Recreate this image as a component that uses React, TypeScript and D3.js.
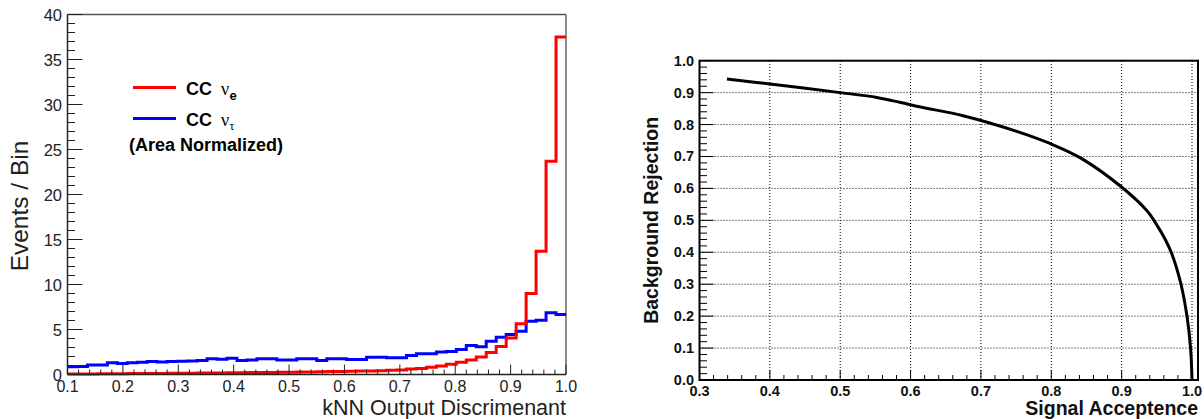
import React from 'react';
import * as d3 from 'd3';

// ---------- Data ----------
const binLow = 0.1;
const binHigh = 1.0;
const ccNuE = [
  0.05, 0.05, 0.06, 0.07, 0.08, 0.09, 0.1, 0.1, 0.11, 0.12,
  0.13, 0.14, 0.15, 0.16, 0.17, 0.18, 0.19, 0.2, 0.21, 0.22,
  0.23, 0.24, 0.26, 0.27, 0.29, 0.3, 0.32, 0.34, 0.36, 0.38,
  0.4, 0.43, 0.46, 0.5, 0.6, 0.68, 0.8, 0.95, 1.15, 1.35,
  1.6, 1.95, 2.45, 3.1, 4.05, 5.65, 9.0, 13.7, 23.7, 37.5,
];
const ccNuTau = [
  0.85, 0.9, 1.05, 1.05, 1.3, 1.22, 1.3, 1.35, 1.44, 1.4,
  1.44, 1.48, 1.5, 1.55, 1.74, 1.7, 1.8, 1.55, 1.6, 1.74,
  1.74, 1.6, 1.6, 1.74, 1.74, 1.55, 1.74, 1.74, 1.67, 1.67,
  1.93, 1.93, 1.85, 1.85, 2.1, 2.3, 2.3, 2.5, 2.55, 2.78,
  3.22, 3.07, 3.7, 4.15, 4.44, 4.8, 5.93, 6.04, 6.85, 6.67,
];
const leftXTicks = [0.1, 0.2, 0.3, 0.4, 0.5, 0.6, 0.7, 0.8, 0.9, 1.0];
const leftYTicks = [0, 5, 10, 15, 20, 25, 30, 35, 40];

const rocAcceptance = [0.339, 0.4, 0.5, 0.552, 0.586, 0.614, 0.676, 0.752, 0.799, 0.842, 0.899, 0.936, 0.951, 0.962, 0.971, 0.984, 0.993, 0.998, 1.0];
const rocRejection = [0.943, 0.927, 0.9, 0.885, 0.869, 0.855, 0.827, 0.778, 0.74, 0.695, 0.606, 0.53, 0.482, 0.44, 0.397, 0.303, 0.198, 0.099, 0.0];
const rightXTicks = [0.3, 0.4, 0.5, 0.6, 0.7, 0.8, 0.9, 1.0];
const rightYTicks = [0.0, 0.1, 0.2, 0.3, 0.4, 0.5, 0.6, 0.7, 0.8, 0.9, 1.0];

const SANS = '"Liberation Sans", Arial, Helvetica, sans-serif';
const SERIF = '"Liberation Serif", "Times New Roman", serif';

function histPath(values: number[], x: d3.ScaleLinear<number, number>, y: d3.ScaleLinear<number, number>) {
  const n = values.length;
  const w = (binHigh - binLow) / n;
  const pts: [number, number][] = [];
  values.forEach((v, i) => {
    pts.push([x(binLow + i * w), y(v)]);
    pts.push([x(binLow + (i + 1) * w), y(v)]);
  });
  return d3.line()(pts) || '';
}

function LeftPanel() {
  const x = d3.scaleLinear().domain([binLow, binHigh]).range([67.5, 566]);
  const y = d3.scaleLinear().domain([0, 40]).range([374.5, 14.5]);
  const axisColor = '#222';
  const xMinor = d3.range(0, 46).map((i) => binLow + i * 0.02).filter((v) => v <= 1.0001);
  const yMinor = d3.range(0, 41);
  return (
    <g>
      {/* frame top/right */}
      <line x1={x(binLow)} x2={x(binHigh)} y1={y(40)} y2={y(40)} stroke="#555" strokeWidth={1.5} />
      <line x1={x(binHigh)} x2={x(binHigh)} y1={y(40)} y2={y(0)} stroke="#666" strokeWidth={1.5} />
      {/* histograms */}
      <path d={histPath(ccNuTau, x, y)} fill="none" stroke="#0000ff" strokeWidth={3} />
      <path d={histPath(ccNuE, x, y)} fill="none" stroke="#ff0000" strokeWidth={3} />
      {/* axes */}
      <line x1={x(binLow)} x2={x(binHigh)} y1={y(0)} y2={y(0)} stroke={axisColor} strokeWidth={1.5} />
      <line x1={x(binLow)} x2={x(binLow)} y1={y(0)} y2={y(40)} stroke={axisColor} strokeWidth={1.5} />
      {xMinor.map((v, i) => (
        <line key={'xm' + i} x1={x(v)} x2={x(v)} y1={y(0)} y2={y(0) - (i % 5 === 0 ? 10 : 5)} stroke={axisColor} strokeWidth={1} />
      ))}
      {yMinor.map((v) => (
        <line key={'ym' + v} x1={x(binLow)} x2={x(binLow) + (v % 5 === 0 ? 15 : 7.5)} y1={y(v)} y2={y(v)} stroke={axisColor} strokeWidth={1} />
      ))}
      {leftXTicks.map((v) => (
        <text key={'xt' + v} x={x(v)} y={392} textAnchor="middle" fontFamily={SANS} fontSize={16} fill={axisColor}>
          {v.toFixed(1)}
        </text>
      ))}
      {leftYTicks.map((v) => (
        <text key={'yt' + v} x={62} y={y(v) + 6} textAnchor="end" fontFamily={SANS} fontSize={16.5} fill={axisColor}>
          {v}
        </text>
      ))}
      <text x={566} y={415} textAnchor="end" fontFamily={SANS} fontSize={21.5} fill={axisColor}>
        kNN Output Discrimenant
      </text>
      <text transform={`translate(28,206) rotate(-90)`} textAnchor="middle" fontFamily={SANS} fontSize={24.5} fill={axisColor}>
        Events / Bin
      </text>
      {/* legend */}
      <line x1={133} x2={176} y1={87.5} y2={87.5} stroke="#ff0000" strokeWidth={3} />
      <text x={186} y={95} fontFamily={SANS} fontWeight="bold" fontSize={18} fill="#000">CC</text>
      <text x={221} y={95} fontFamily={SERIF} fontSize={18} fill="#000">ν</text>
      <text x={229.5} y={100} fontFamily={SANS} fontWeight="bold" fontSize={13} fill="#000">e</text>
      <line x1={133} x2={176} y1={118.5} y2={118.5} stroke="#0000ff" strokeWidth={3} />
      <text x={186} y={125.5} fontFamily={SANS} fontWeight="bold" fontSize={18} fill="#000">CC</text>
      <text x={221} y={125.5} fontFamily={SERIF} fontSize={18} fill="#000">ν</text>
      <text x={229.5} y={130} fontFamily={SERIF} fontSize={12} fill="#000">τ</text>
      <text x={129} y={150.5} fontFamily={SANS} fontWeight="bold" fontSize={18} fill="#000">(Area Normalized)</text>
    </g>
  );
}

function RightPanel() {
  const x = d3.scaleLinear().domain([0.3, 1.0]).range([699.5, 1192]);
  const y = d3.scaleLinear().domain([0, 1]).range([380, 60.7]);
  const frameRight = 1198;
  const line = d3.line<number>()
    .x((_, i) => x(rocAcceptance[i]))
    .y((d) => y(d))
    .curve(d3.curveCatmullRom.alpha(0.5));
  const xMinor = d3.range(0, 36).map((i) => 0.3 + i * 0.02).filter((v) => v <= 1.0001);
  const yMinor = d3.range(0, 51).map((i) => i * 0.02);
  return (
    <g>
      {/* grid */}
      {rightXTicks.filter((v) => v > 0.3).map((v) => (
        <line key={'gx' + v} x1={x(v)} x2={x(v)} y1={y(0)} y2={y(1)} stroke="#000" strokeWidth={1} strokeDasharray="1,2" />
      ))}
      {rightYTicks.filter((v) => v > 0 && v < 1).map((v) => (
        <line key={'gy' + v} x1={x(0.3)} x2={frameRight} y1={y(v)} y2={y(v)} stroke="#000" strokeWidth={1} strokeDasharray="1,2" />
      ))}
      {/* ticks */}
      {xMinor.map((v, i) => (
        <line key={'xm' + i} x1={x(v)} x2={x(v)} y1={y(0)} y2={y(0) - (i % 5 === 0 ? 10 : 5)} stroke="#000" strokeWidth={1} />
      ))}
      {yMinor.map((v, i) => (
        <line key={'ym' + i} x1={x(0.3)} x2={x(0.3) + (i % 5 === 0 ? 14 : 7.5)} y1={y(v)} y2={y(v)} stroke="#000" strokeWidth={1} />
      ))}
      {/* frame */}
      <rect x={x(0.3)} y={y(1)} width={frameRight - x(0.3)} height={y(0) - y(1)} fill="none" stroke="#000" strokeWidth={2} />
      {/* curve */}
      <path d={line(rocRejection) || ''} fill="none" stroke="#000" strokeWidth={3} />
      {rightXTicks.map((v) => (
        <text key={'xt' + v} x={x(v)} y={395.5} textAnchor="middle" fontFamily={SANS} fontWeight="bold" fontSize={14.5} fill="#111">
          {v.toFixed(1)}
        </text>
      ))}
      {rightYTicks.map((v) => (
        <text key={'yt' + v} x={694} y={y(v) + 5} textAnchor="end" fontFamily={SANS} fontWeight="bold" fontSize={14.5} fill="#111">
          {v.toFixed(1)}
        </text>
      ))}
      <text x={frameRight} y={415} textAnchor="end" fontFamily={SANS} fontWeight="bold" fontSize={19.5} fill="#111">
        Signal Acceptence
      </text>
      <text transform={`translate(658,${(y(0) + y(1)) / 2}) rotate(-90)`} textAnchor="middle" fontFamily={SANS} fontWeight="bold" fontSize={19.5} fill="#111">
        Background Rejection
      </text>
    </g>
  );
}

export default function App() {
  return (
    <svg width={1204} height={419} style={{ position: 'absolute', left: 0, top: 0, background: '#fff' }}>
      <rect width={1204} height={419} fill="#fff" />
      <LeftPanel />
      <RightPanel />
    </svg>
  );
}
